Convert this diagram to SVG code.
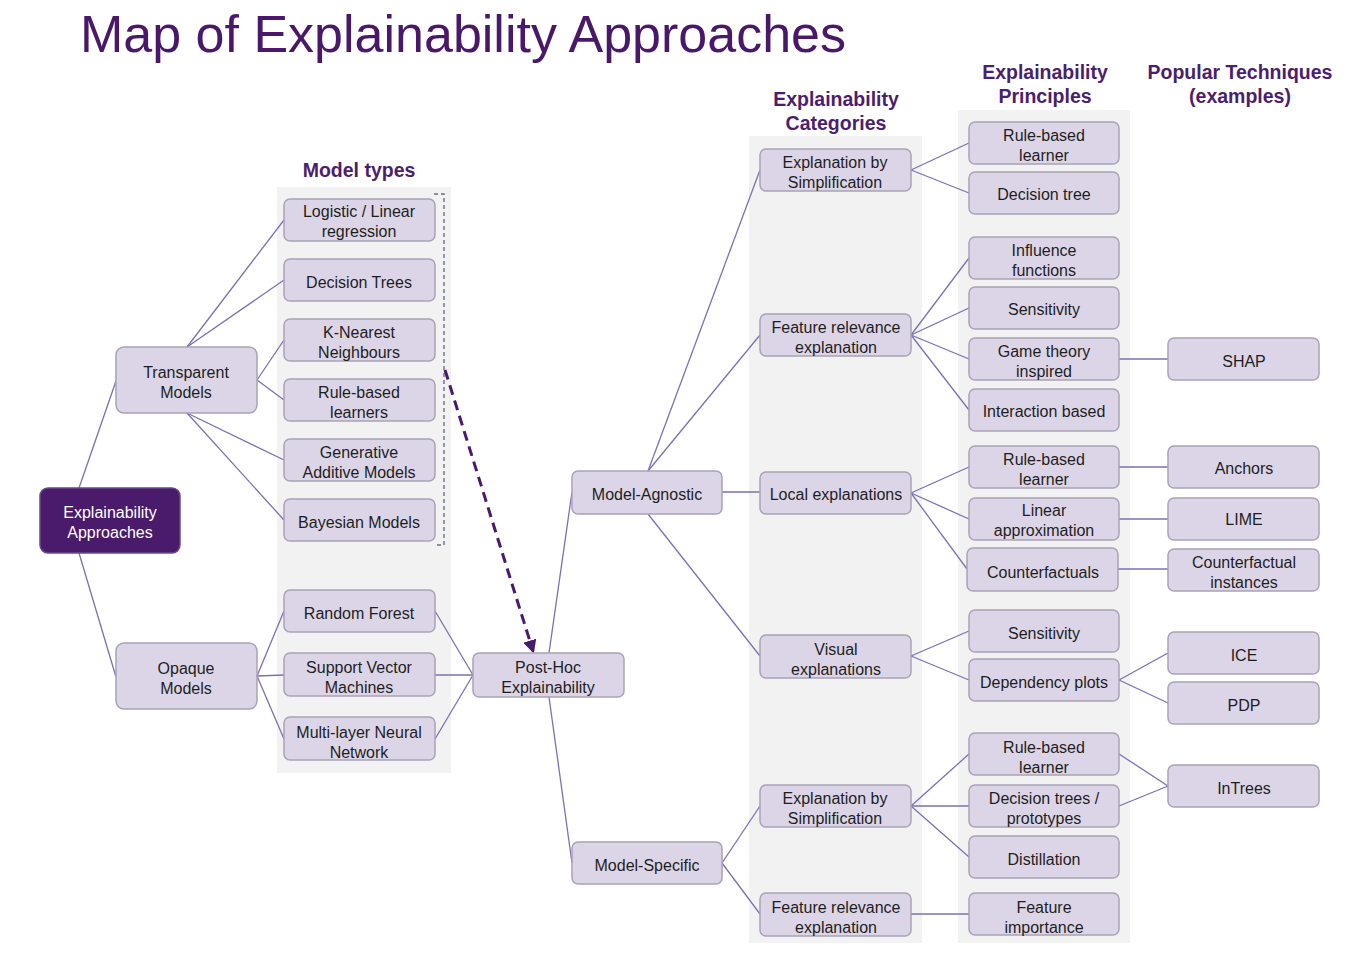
<svg xmlns="http://www.w3.org/2000/svg" width="1366" height="953" viewBox="0 0 1366 953">
<defs>
<style>
.panel{fill:#f2f2f2}
.n rect{fill:#dcd5e8;stroke:#a9a3b5;stroke-width:1.5}
.n text{font-family:"Liberation Sans",Arial,sans-serif;font-size:16px;fill:#1e1e1e;text-anchor:middle}
.root rect{fill:#4a1a6b;stroke:#6a4a8a;stroke-width:1.5}
.root text{fill:#fff}
.hdr{font-family:"Liberation Sans",Arial,sans-serif;font-size:19.5px;font-weight:bold;fill:#4b1e6e;text-anchor:middle}
.title{font-family:"Liberation Sans",Arial,sans-serif;font-size:52px;fill:#4a1868}
#connectors line{stroke:#7d70b3;stroke-width:1.3;fill:none}
</style>
<marker id="ah" viewBox="0 0 10 10" refX="8" refY="5" markerWidth="4.5" markerHeight="4.5" orient="auto"><path d="M0,0 L10,5 L0,10 z" fill="#4a1a6b"/></marker>
</defs>
<rect width="1366" height="953" fill="#fff"/>
<text class="title" x="80" y="52">Map of Explainability  Approaches</text>
<g id="panels">
<rect class="panel" x="277" y="187" width="174" height="586"/>
<rect class="panel" x="749" y="136" width="173" height="807"/>
<rect class="panel" x="958" y="110" width="172" height="833"/>
</g>
<g id="headers">
<text class="hdr" x="836" y="106">Explainability</text>
<text class="hdr" x="836" y="130">Categories</text>
<text class="hdr" x="359" y="177">Model types</text>
<text class="hdr" x="1045" y="79">Explainability</text>
<text class="hdr" x="1045" y="103">Principles</text>
<text class="hdr" x="1240" y="79">Popular Techniques</text>
<text class="hdr" x="1240" y="103">(examples)</text>
</g>
<g id="connectors">
<line x1="79" y1="488" x2="116" y2="381"/>
<line x1="79" y1="553" x2="116" y2="677"/>
<line x1="187" y1="347" x2="284" y2="220"/>
<line x1="187" y1="347" x2="284" y2="280"/>
<line x1="257" y1="380" x2="284" y2="340"/>
<line x1="257" y1="380" x2="284" y2="400"/>
<line x1="187" y1="413" x2="284" y2="460"/>
<line x1="187" y1="413" x2="284" y2="520"/>
<line x1="257" y1="676" x2="284" y2="611"/>
<line x1="257" y1="676" x2="284" y2="675"/>
<line x1="257" y1="676" x2="284" y2="739"/>
<line x1="435" y1="611" x2="473" y2="675"/>
<line x1="435" y1="675" x2="473" y2="675"/>
<line x1="435" y1="739" x2="473" y2="675"/>
<line x1="549" y1="653" x2="572" y2="492"/>
<line x1="549" y1="697" x2="572" y2="863"/>
<line x1="648" y1="471" x2="760" y2="170"/>
<line x1="648" y1="471" x2="760" y2="335"/>
<line x1="722" y1="492" x2="760" y2="492"/>
<line x1="648" y1="514" x2="760" y2="656"/>
<line x1="722" y1="863" x2="760" y2="806"/>
<line x1="722" y1="863" x2="760" y2="914"/>
<line x1="911" y1="170" x2="969" y2="143"/>
<line x1="911" y1="170" x2="969" y2="193"/>
<line x1="911" y1="335" x2="969" y2="258"/>
<line x1="911" y1="335" x2="969" y2="308"/>
<line x1="911" y1="335" x2="969" y2="359"/>
<line x1="911" y1="335" x2="969" y2="410"/>
<line x1="911" y1="493" x2="969" y2="467"/>
<line x1="911" y1="493" x2="969" y2="519"/>
<line x1="911" y1="493" x2="967" y2="569"/>
<line x1="911" y1="656" x2="969" y2="631"/>
<line x1="911" y1="656" x2="969" y2="680"/>
<line x1="911" y1="806" x2="969" y2="754"/>
<line x1="911" y1="806" x2="969" y2="806"/>
<line x1="911" y1="806" x2="969" y2="857"/>
<line x1="911" y1="914" x2="969" y2="914"/>
<line x1="1119" y1="359" x2="1168" y2="359"/>
<line x1="1119" y1="467" x2="1168" y2="467"/>
<line x1="1119" y1="519" x2="1168" y2="519"/>
<line x1="1118" y1="569" x2="1168" y2="569"/>
<line x1="1119" y1="680" x2="1168" y2="653"/>
<line x1="1119" y1="680" x2="1168" y2="703"/>
<line x1="1119" y1="754" x2="1168" y2="786"/>
<line x1="1119" y1="806" x2="1168" y2="786"/>
<path d="M434,194 H444 V545 H434" fill="none" stroke="#6e6e82" stroke-width="1.4" stroke-dasharray="4 3"/>
<path d="M445,370 L533,651" fill="none" stroke="#4a1a6b" stroke-width="3" stroke-dasharray="10 6" marker-end="url(#ah)"/>
</g>
<g id="root" class="n root"><rect x="40" y="488" width="140" height="65" rx="8"/><text x="110" y="518">Explainability</text><text x="110" y="538">Approaches</text></g>
<g id="transparent" class="n"><rect x="116" y="347" width="141" height="66" rx="8"/><text x="186" y="378">Transparent</text><text x="186" y="398">Models</text></g>
<g id="opaque" class="n"><rect x="116" y="643" width="141" height="66" rx="8"/><text x="186" y="674">Opaque</text><text x="186" y="694">Models</text></g>
<g id="logistic" class="n"><rect x="284" y="199" width="151" height="42" rx="6"/><text x="359" y="217">Logistic / Linear</text><text x="359" y="237">regression</text></g>
<g id="dtrees" class="n"><rect x="284" y="259" width="151" height="42" rx="6"/><text x="359" y="288">Decision  Trees</text></g>
<g id="knn" class="n"><rect x="284" y="319" width="151" height="42" rx="6"/><text x="359" y="338">K-Nearest</text><text x="359" y="358">Neighbours</text></g>
<g id="rbl" class="n"><rect x="284" y="379" width="151" height="42" rx="6"/><text x="359" y="398">Rule-based</text><text x="359" y="418">learners</text></g>
<g id="gam" class="n"><rect x="284" y="439" width="151" height="42" rx="6"/><text x="359" y="458">Generative</text><text x="359" y="478">Additive  Models</text></g>
<g id="bayes" class="n"><rect x="284" y="499" width="151" height="42" rx="6"/><text x="359" y="528">Bayesian Models</text></g>
<g id="rf" class="n"><rect x="284" y="590" width="151" height="42" rx="6"/><text x="359" y="619">Random  Forest</text></g>
<g id="svm" class="n"><rect x="284" y="653" width="151" height="43" rx="6"/><text x="359" y="673">Support Vector</text><text x="359" y="693">Machines</text></g>
<g id="mlnn" class="n"><rect x="284" y="717" width="151" height="43" rx="6"/><text x="359" y="738">Multi-layer Neural</text><text x="359" y="758">Network</text></g>
<g id="posthoc" class="n"><rect x="473" y="653" width="151" height="44" rx="6"/><text x="548" y="673">Post-Hoc</text><text x="548" y="693">Explainability</text></g>
<g id="agnostic" class="n"><rect x="572" y="471" width="150" height="43" rx="6"/><text x="647" y="500">Model-Agnostic</text></g>
<g id="specific" class="n"><rect x="572" y="842" width="150" height="42" rx="6"/><text x="647" y="871">Model-Specific</text></g>
<g id="es1" class="n"><rect x="760" y="149" width="151" height="42" rx="6"/><text x="835" y="168">Explanation by</text><text x="835" y="188">Simplification</text></g>
<g id="fr1" class="n"><rect x="760" y="314" width="151" height="42" rx="6"/><text x="836" y="333">Feature relevance</text><text x="836" y="353">explanation</text></g>
<g id="local" class="n"><rect x="760" y="472" width="151" height="42" rx="6"/><text x="836" y="500">Local explanations</text></g>
<g id="visual" class="n"><rect x="760" y="635" width="151" height="43" rx="6"/><text x="836" y="655">Visual</text><text x="836" y="675">explanations</text></g>
<g id="es2" class="n"><rect x="760" y="785" width="151" height="42" rx="6"/><text x="835" y="804">Explanation by</text><text x="835" y="824">Simplification</text></g>
<g id="fr2" class="n"><rect x="760" y="893" width="151" height="43" rx="6"/><text x="836" y="913">Feature relevance</text><text x="836" y="933">explanation</text></g>
<g id="p-rbl1" class="n"><rect x="969" y="122" width="150" height="42" rx="6"/><text x="1044" y="141">Rule-based</text><text x="1044" y="161">learner</text></g>
<g id="p-dt" class="n"><rect x="969" y="172" width="150" height="42" rx="6"/><text x="1044" y="200">Decision tree</text></g>
<g id="p-infl" class="n"><rect x="969" y="237" width="150" height="42" rx="6"/><text x="1044" y="256">Influence</text><text x="1044" y="276">functions</text></g>
<g id="p-sens1" class="n"><rect x="969" y="287" width="150" height="42" rx="6"/><text x="1044" y="315">Sensitivity</text></g>
<g id="p-game" class="n"><rect x="969" y="338" width="150" height="42" rx="6"/><text x="1044" y="357">Game theory</text><text x="1044" y="377">inspired</text></g>
<g id="p-inter" class="n"><rect x="969" y="389" width="150" height="42" rx="6"/><text x="1044" y="417">Interaction based</text></g>
<g id="p-rbl2" class="n"><rect x="969" y="446" width="150" height="42" rx="6"/><text x="1044" y="465">Rule-based</text><text x="1044" y="485">learner</text></g>
<g id="p-lin" class="n"><rect x="969" y="498" width="150" height="42" rx="6"/><text x="1044" y="516">Linear</text><text x="1044" y="536">approximation</text></g>
<g id="p-cf" class="n"><rect x="967" y="548" width="151" height="43" rx="6"/><text x="1043" y="578">Counterfactuals</text></g>
<g id="p-sens2" class="n"><rect x="969" y="610" width="150" height="42" rx="6"/><text x="1044" y="639">Sensitivity</text></g>
<g id="p-dep" class="n"><rect x="969" y="659" width="150" height="42" rx="6"/><text x="1044" y="688">Dependency  plots</text></g>
<g id="p-rbl3" class="n"><rect x="969" y="733" width="150" height="42" rx="6"/><text x="1044" y="753">Rule-based</text><text x="1044" y="773">learner</text></g>
<g id="p-dtp" class="n"><rect x="969" y="785" width="150" height="42" rx="6"/><text x="1044" y="804">Decision trees /</text><text x="1044" y="824">prototypes</text></g>
<g id="p-dist" class="n"><rect x="969" y="836" width="150" height="42" rx="6"/><text x="1044" y="865">Distillation</text></g>
<g id="p-fi" class="n"><rect x="969" y="893" width="150" height="42" rx="6"/><text x="1044" y="913">Feature</text><text x="1044" y="933">importance</text></g>
<g id="t-shap" class="n"><rect x="1168" y="338" width="151" height="42" rx="6"/><text x="1244" y="367">SHAP</text></g>
<g id="t-anchors" class="n"><rect x="1168" y="446" width="151" height="42" rx="6"/><text x="1244" y="474">Anchors</text></g>
<g id="t-lime" class="n"><rect x="1168" y="498" width="151" height="42" rx="6"/><text x="1244" y="525">LIME</text></g>
<g id="t-ci" class="n"><rect x="1168" y="549" width="151" height="42" rx="6"/><text x="1244" y="568">Counterfactual</text><text x="1244" y="588">instances</text></g>
<g id="t-ice" class="n"><rect x="1168" y="632" width="151" height="42" rx="6"/><text x="1244" y="661">ICE</text></g>
<g id="t-pdp" class="n"><rect x="1168" y="682" width="151" height="42" rx="6"/><text x="1244" y="711">PDP</text></g>
<g id="t-intrees" class="n"><rect x="1168" y="765" width="151" height="42" rx="6"/><text x="1244" y="794">InTrees</text></g>
</svg>
